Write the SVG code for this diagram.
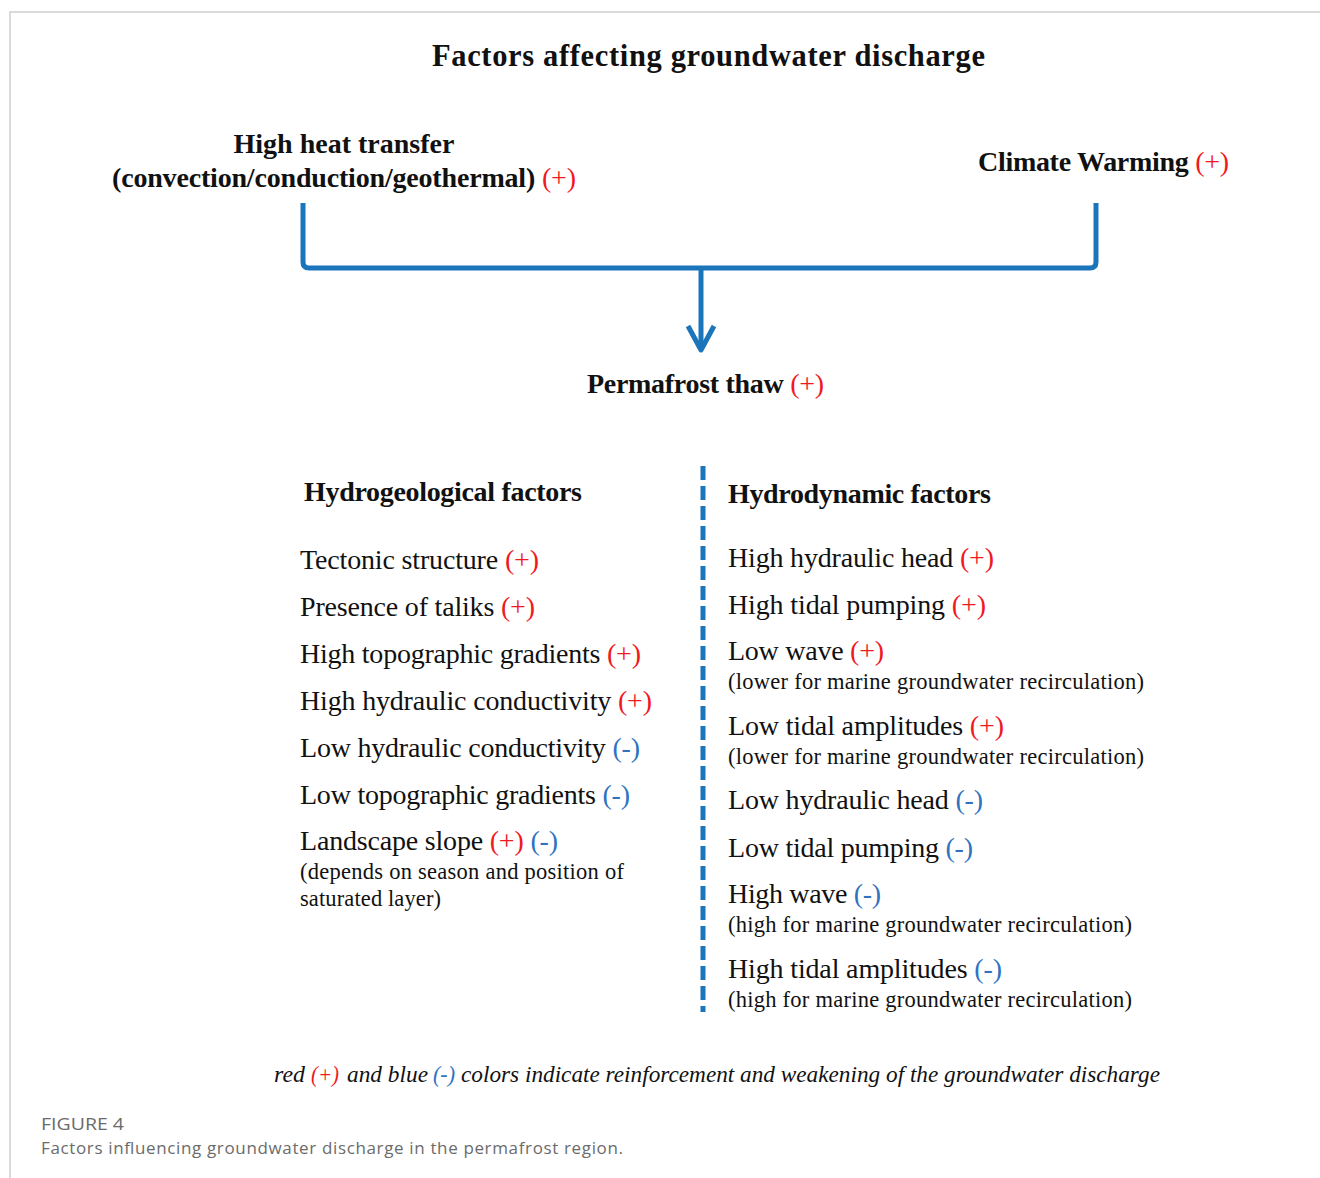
<svg xmlns="http://www.w3.org/2000/svg" width="1320" height="1178" viewBox="0 0 1320 1178">
<style>
.t{font-family:"Liberation Serif","Times New Roman",serif;fill:#111}
.b{font-weight:bold}
.n{font-size:28px}
.s{font-size:22.5px}
.h{font-size:28px}
.i{font-size:24px;font-style:italic}
.r{fill:#f0191e;font-weight:normal}
.u{fill:#2f73c0;font-weight:normal}
.cap{font-family:"Open Sans","Noto Sans","Liberation Sans",sans-serif;font-size:17px;fill:#6b6b6b}
.ln{fill:none;stroke:#1b75bb;stroke-width:5;stroke-linecap:butt;stroke-linejoin:round}
</style>
<rect width="1320" height="1178" fill="#fff"/>
<path d="M10,1178 L10,12 L1320,12" fill="none" stroke="#cfcfcf" stroke-width="1.5"/>

<g id="title"><text class="t b" x="432" y="66" font-size="30.5" textLength="553" lengthAdjust="spacing">Factors affecting groundwater discharge</text></g>

<g id="heat">
<text class="t b h" x="344" y="153" text-anchor="middle">High heat transfer</text>
<text class="t b h" x="112" y="187" textLength="464" lengthAdjust="spacing">(convection/conduction/geothermal) <tspan class="r">(+)</tspan></text>
</g>
<g id="climate"><text class="t b h" x="978" y="171" textLength="251" lengthAdjust="spacing">Climate Warming <tspan class="r">(+)</tspan></text></g>
<g id="thaw"><text class="t b h" x="587" y="393" textLength="237" lengthAdjust="spacing">Permafrost thaw <tspan class="r">(+)</tspan></text></g>

<g id="connectors">
<path class="ln" d="M303,203 L303,262 Q303,268 309,268 L1090,268 Q1096,268 1096,262 L1096,203"/>
<path class="ln" d="M701,268 L701,349"/>
<path class="ln" d="M688,326 L701,350 L714,326"/>
<path d="M703,466 L703,1012" fill="none" stroke="#1b75bb" stroke-width="5" stroke-dasharray="14 6"/>
</g>

<g id="hydrogeological">
<text class="t b h" x="304" y="501" textLength="278" lengthAdjust="spacing">Hydrogeological factors</text>
<text class="t n" x="300" y="569" textLength="239" lengthAdjust="spacing">Tectonic structure <tspan class="r">(+)</tspan></text>
<text class="t n" x="300" y="616" textLength="235" lengthAdjust="spacing">Presence of taliks <tspan class="r">(+)</tspan></text>
<text class="t n" x="300" y="663" textLength="341" lengthAdjust="spacing">High topographic gradients <tspan class="r">(+)</tspan></text>
<text class="t n" x="300" y="710" textLength="352" lengthAdjust="spacing">High hydraulic conductivity <tspan class="r">(+)</tspan></text>
<text class="t n" x="300" y="757" textLength="340" lengthAdjust="spacing">Low hydraulic conductivity <tspan class="u">(-)</tspan></text>
<text class="t n" x="300" y="804" textLength="330" lengthAdjust="spacing">Low topographic gradients <tspan class="u">(-)</tspan></text>
<text class="t n" x="300" y="850" textLength="258" lengthAdjust="spacing">Landscape slope <tspan class="r">(+)</tspan> <tspan class="u">(-)</tspan></text>
<text class="t s" x="300" y="879" textLength="324" lengthAdjust="spacing">(depends on season and position of</text>
<text class="t s" x="300" y="906" textLength="141" lengthAdjust="spacing">saturated layer)</text>
</g>

<g id="hydrodynamic">
<text class="t b h" x="728" y="503" textLength="263" lengthAdjust="spacing">Hydrodynamic factors</text>
<text class="t n" x="728" y="567" textLength="266" lengthAdjust="spacing">High hydraulic head <tspan class="r">(+)</tspan></text>
<text class="t n" x="728" y="614" textLength="258" lengthAdjust="spacing">High tidal pumping <tspan class="r">(+)</tspan></text>
<text class="t n" x="728" y="660" textLength="156" lengthAdjust="spacing">Low wave <tspan class="r">(+)</tspan></text>
<text class="t s" x="728" y="689" textLength="416" lengthAdjust="spacing">(lower for marine groundwater recirculation)</text>
<text class="t n" x="728" y="735" textLength="276" lengthAdjust="spacing">Low tidal amplitudes <tspan class="r">(+)</tspan></text>
<text class="t s" x="728" y="764" textLength="416" lengthAdjust="spacing">(lower for marine groundwater recirculation)</text>
<text class="t n" x="728" y="809" textLength="255" lengthAdjust="spacing">Low hydraulic head <tspan class="u">(-)</tspan></text>
<text class="t n" x="728" y="857" textLength="245" lengthAdjust="spacing">Low tidal pumping <tspan class="u">(-)</tspan></text>
<text class="t n" x="728" y="903" textLength="153" lengthAdjust="spacing">High wave <tspan class="u">(-)</tspan></text>
<text class="t s" x="728" y="932" textLength="404" lengthAdjust="spacing">(high for marine groundwater recirculation)</text>
<text class="t n" x="728" y="978" textLength="274" lengthAdjust="spacing">High tidal amplitudes <tspan class="u">(-)</tspan></text>
<text class="t s" x="728" y="1007" textLength="404" lengthAdjust="spacing">(high for marine groundwater recirculation)</text>
</g>

<g id="legend">
<text class="t i" x="274" y="1082" textLength="31" lengthAdjust="spacingAndGlyphs">red</text>
<text class="t i r" x="311" y="1082" font-style="italic" textLength="28" lengthAdjust="spacingAndGlyphs">(+)</text>
<text class="t i" x="347" y="1082" textLength="81" lengthAdjust="spacingAndGlyphs">and blue</text>
<text class="t i u" x="433" y="1082" font-style="italic" textLength="22" lengthAdjust="spacingAndGlyphs">(-)</text>
<text class="t i" x="461" y="1082" textLength="699" lengthAdjust="spacingAndGlyphs">colors indicate reinforcement and weakening of the groundwater discharge</text>
</g>

<g id="caption">
<text class="cap" x="41" y="1130" font-size="19" textLength="83" lengthAdjust="spacingAndGlyphs">FIGURE 4</text>
<text class="cap" x="41" y="1154" textLength="582" lengthAdjust="spacing">Factors influencing groundwater discharge in the permafrost region.</text>
</g>
</svg>
